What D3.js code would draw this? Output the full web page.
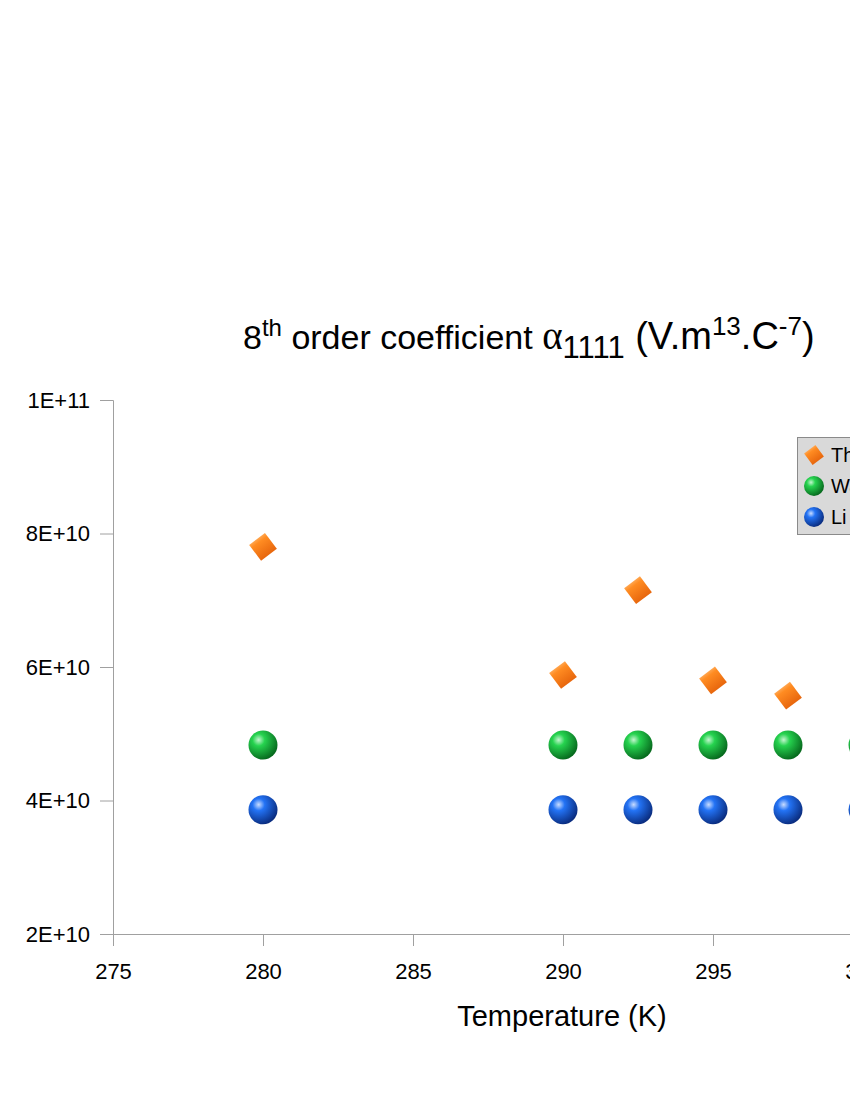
<!DOCTYPE html>
<html><head><meta charset="utf-8">
<script src="https://cdn.jsdelivr.net/npm/d3@7/dist/d3.min.js"></script>
<style>html,body{margin:0;padding:0;background:#fff;overflow:hidden}svg{display:block}</style>
</head><body>
<script>
const xTicks = [275, 280, 285, 290, 295, 300];
const yTicks = [2e10, 4e10, 6e10, 8e10, 1e11];
const yTickLabels = ["2E+10", "4E+10", "6E+10", "8E+10", "1E+11"];
const seriesNames = ["This work", "Wang et al.", "Li et al."];
const thTemps = [280, 290, 292.5, 295, 297.5];
const thValues = [7.8e10, 5.88e10, 7.15e10, 5.8e10, 5.57e10];
const wTemps = [280, 290, 292.5, 295, 297.5, 300];
const wValues = [4.83e10, 4.83e10, 4.83e10, 4.83e10, 4.83e10, 4.83e10];
const liTemps = [280, 290, 292.5, 295, 297.5, 300];
const liValues = [3.86e10, 3.86e10, 3.86e10, 3.86e10, 3.86e10, 3.86e10];

const W = 850, H = 1100;
const svg = d3.select("body").append("svg").attr("width", W).attr("height", H)
  .style("font-family", "'Liberation Sans', Arial, sans-serif");
const defs = svg.append("defs");
function sphereGrad(id, light, mid, dark) {
  const g = defs.append("radialGradient").attr("id", id)
    .attr("cx", "35%").attr("cy", "32%").attr("r", "70%");
  g.append("stop").attr("offset", "0%").attr("stop-color", light);
  g.append("stop").attr("offset", "30%").attr("stop-color", mid);
  g.append("stop").attr("offset", "100%").attr("stop-color", dark);
}
sphereGrad("gGreen", "#c4f5cf", "#26d34f", "#076a1e");
sphereGrad("gBlue", "#c8dcff", "#2373f5", "#0a2d80");
const og = defs.append("linearGradient").attr("id", "gOrange")
  .attr("x1", "0%").attr("y1", "0%").attr("x2", "100%").attr("y2", "100%");
og.append("stop").attr("offset", "0%").attr("stop-color", "#ffe6c0");
og.append("stop").attr("offset", "35%").attr("stop-color", "#ff8c22");
og.append("stop").attr("offset", "100%").attr("stop-color", "#d94f00");

const x = d3.scaleLinear().domain([275, 300]).range([113, 863]);
const y = d3.scaleLinear().domain([2e10, 1e11]).range([934, 400]);

// axes
const axColor = "#a0a0a0";
const yAxis = svg.append("g").attr("transform", `translate(${x(275)},0)`)
  .call(d3.axisLeft(y).tickValues(yTicks).tickSize(13).tickPadding(10)
    .tickFormat((d, i) => yTickLabels[i]));
const xAxis = svg.append("g").attr("transform", `translate(0,${y(2e10)})`)
  .call(d3.axisBottom(x).tickValues(xTicks).tickSize(12).tickPadding(17).tickFormat(d3.format("d")));
[yAxis, xAxis].forEach(a => {
  a.select(".domain").attr("stroke", axColor).attr("stroke-width", 1);
  a.selectAll(".tick line").attr("stroke", axColor);
  a.selectAll(".tick text").attr("fill", "#000").style("font-size", "22px")
    .style("font-family", "'Liberation Sans', Arial, sans-serif");
});

// axis title
svg.append("text").attr("x", 562).attr("y", 1026).attr("text-anchor", "middle")
  .style("font-size", "29px").text("Temperature (K)");

// title
const t = svg.append("text").attr("x", 243).attr("y", 349).style("font-size", "34px");
t.append("tspan").text("8");
t.append("tspan").attr("dy", -13).style("font-size", "24px").text("th");
t.append("tspan").attr("dy", 13).text(" order coefficient ");
t.append("tspan").style("font-family", "'Liberation Serif', 'Times New Roman', serif").style("font-size", "39px").text("α");
t.append("tspan").attr("dy", 9).style("font-size", "31px").text("1111");
t.append("tspan").attr("dy", -9).style("font-size", "38px").text(" (V.m");
t.append("tspan").attr("dy", -14).style("font-size", "26px").text("13");
t.append("tspan").attr("dy", 14).style("font-size", "38px").text(".C");
t.append("tspan").attr("dy", -14).style("font-size", "26px").text("-7");
t.append("tspan").attr("dy", 14).style("font-size", "38px").text(")");

// markers
const plot = svg.append("g");
function diamond(g, cx, cy, s) {
  g.append("path")
    .attr("d", `M${cx},${cy - s} L${cx + s},${cy} L${cx},${cy + s} L${cx - s},${cy} Z`)
    .attr("transform", `rotate(8,${cx},${cy})`)
    .attr("fill", "url(#gOrange)");
}
function sphere(g, cx, cy, r, grad) {
  g.append("circle").attr("cx", cx).attr("cy", cy).attr("r", r).attr("fill", `url(#${grad})`);
}
wTemps.forEach((d, i) => sphere(plot, x(d), y(wValues[i]), 14.5, "gGreen"));
liTemps.forEach((d, i) => sphere(plot, x(d), y(liValues[i]), 14.5, "gBlue"));
thTemps.forEach((d, i) => diamond(plot, x(d), y(thValues[i]), 14));

// legend
const lg = svg.append("g");
lg.append("rect").attr("x", 797.5).attr("y", 437.5).attr("width", 200).attr("height", 97)
  .attr("fill", "#d9d9d9").attr("stroke", "#8a8a8a");
const ly = [455, 486, 517];
diamond(lg, 814, ly[0], 10);
sphere(lg, 814, ly[1], 10, "gGreen");
sphere(lg, 814, ly[2], 10, "gBlue");
seriesNames.forEach((n, i) => lg.append("text").attr("x", 831).attr("y", ly[i] + 7)
  .style("font-size", "20px").text(n));
</script>
</body></html>
